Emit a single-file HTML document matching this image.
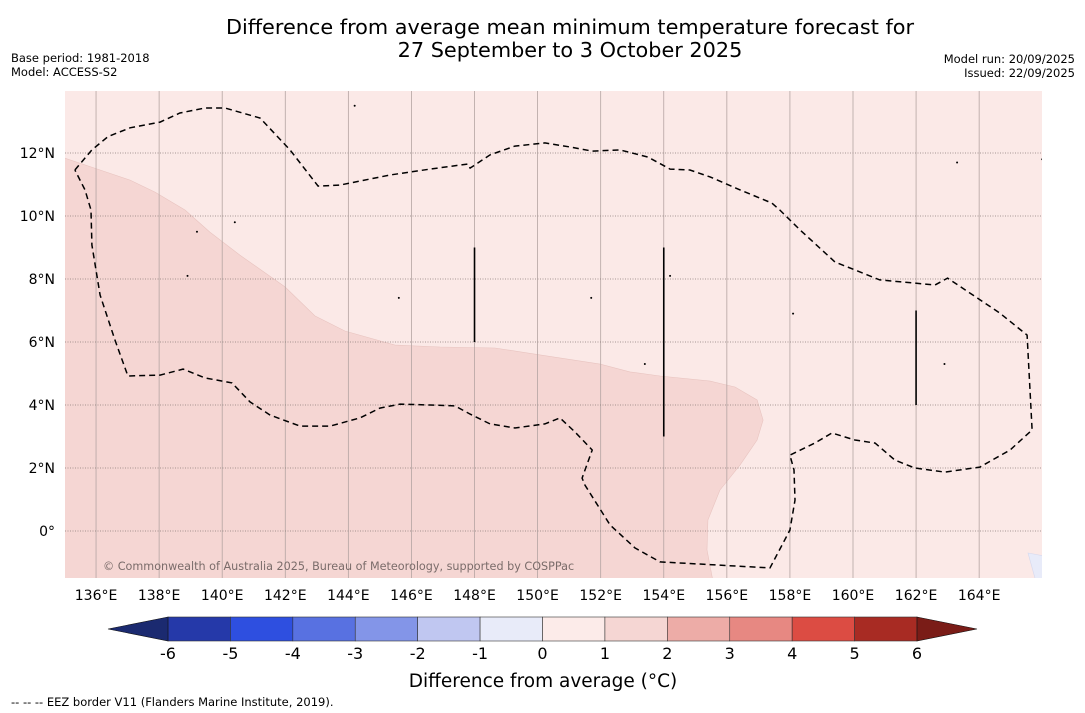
<!DOCTYPE html>
<html><head><meta charset="utf-8"><style>
body{margin:0;background:#fff;font-family:"DejaVu Sans","Liberation Sans",sans-serif;}
#wrap{position:relative;width:1085px;height:713px;overflow:hidden;}
</style></head><body>
<div id="wrap">
<svg id="svg" width="1085" height="713" xmlns="http://www.w3.org/2000/svg">
<text x="570" y="34" text-anchor="middle" font-size="20.8" fill="#000">Difference from average mean minimum temperature forecast for</text>
<text x="570" y="57" text-anchor="middle" font-size="20.8" fill="#000">27 September to 3 October 2025</text>
<text x="11" y="62" font-size="11.5">Base period: 1981-2018</text>
<text x="11" y="76" font-size="11.5">Model: ACCESS-S2</text>
<text x="1075" y="63" font-size="11.5" text-anchor="end">Model run: 20/09/2025</text>
<text x="1075" y="77" font-size="11.5" text-anchor="end">Issued: 22/09/2025</text>
<defs><clipPath id="mapclip"><rect x="65" y="91" width="977" height="487"/></clipPath></defs>
<g id="map" clip-path="url(#mapclip)"></g>
<g id="axes"></g>
<text x="103" y="570" font-size="11.2" fill="#7a6c6a">© Commonwealth of Australia 2025, Bureau of Meteorology, supported by COSPPac</text>
<g id="cbar"></g>
<text x="543" y="687" text-anchor="middle" font-size="18.5">Difference from average (°C)</text>
<text x="11" y="706" font-size="11.5">--  --  -- EEZ border V11 (Flanders Marine Institute, 2019).</text>
</svg>
</div>
<script>
const lonTicks=[136,138,140,142,144,146,148,150,152,154,156,158,160,162,164];
const latTicks=[0,2,4,6,8,10,12];
const anomalyRegion=[[135,11.84],[136.13,11.46],[137.08,11.14],[137.87,10.76],[138.82,10.19],[139.61,9.49],[140.56,8.76],[141.99,7.75],[142.94,6.83],[143.89,6.35],[145.48,5.9],[146.91,5.84],[148.65,5.81],[150.08,5.59],[151.98,5.3],[152.93,5.05],[153.88,4.92],[155.47,4.76],[156.26,4.57],[156.96,4.16],[157.15,3.52],[156.96,2.89],[156.42,2.1],[155.78,1.3],[155.4,0.35],[155.37,-0.6],[155.56,-1.6],[135,-1.6]];
const coolRegion=[[165.55,-0.7],[166.1,-0.8],[166.1,-1.6],[165.8,-1.6]];
const eezBorder=[[135.33,11.46],[135.87,12.1],[136.38,12.52],[137.08,12.8],[138.03,12.98],[138.66,13.27],[139.45,13.43],[140.09,13.43],[141.2,13.11],[142.15,12.1],[143.04,10.95],[143.73,10.98],[145.32,11.3],[146.59,11.49],[147.79,11.65],[147.86,11.52],[148.49,11.94],[149.28,12.22],[150.23,12.32],[151.03,12.19],[151.73,12.06],[152.61,12.1],[153.5,11.87],[154.2,11.49],[154.83,11.46],[155.47,11.24],[156.42,10.83],[157.43,10.41],[157.68,10.19],[158.32,9.56],[159.43,8.54],[160.85,7.97],[162.6,7.81],[163.0,8.03],[164.65,6.92],[165.52,6.22],[165.68,3.21],[164.98,2.57],[164.02,2.03],[162.91,1.87],[161.96,2.0],[161.33,2.25],[160.7,2.79],[160.06,2.89],[159.33,3.11],[158.79,2.79],[158.0,2.41],[158.13,1.94],[158.16,0.98],[158.0,0.03],[157.37,-1.17],[153.88,-0.98],[153.09,-0.54],[152.3,0.19],[151.5,1.46],[151.41,1.68],[151.73,2.57],[151.19,3.14],[150.71,3.59],[150.23,3.4],[149.28,3.27],[148.49,3.4],[147.86,3.71],[147.38,3.97],[146.59,4.0],[145.64,4.03],[145.0,3.9],[144.37,3.59],[143.42,3.33],[142.47,3.33],[141.52,3.68],[140.88,4.1],[140.31,4.7],[139.45,4.86],[138.76,5.14],[138.03,4.95],[137.01,4.92],[136.6,6.06],[136.13,7.49],[135.87,9.08],[135.84,10.19],[135.65,10.83],[135.33,11.46]];
const borderSegments=[[148,6.0,9.0],[154,3.0,9.0],[162,4.0,7.0]];
const islands=[[144.2,13.5],[139.2,9.5],[140.4,9.8],[145.6,7.4],[151.7,7.4],[158.1,6.9],[162.9,5.3],[138.9,8.1],[153.4,5.3],[154.2,8.1],[163.3,11.7],[166,11.8]];
const cbarLevels=[-6,-5,-4,-3,-2,-1,0,1,2,3,4,5,6];
const cbarColors=["#2539a9","#2e4fe0","#5871e1","#8395e8","#c0c7f1","#e8ebf9","#fcebe9","#f5d6d3","#edaca7","#e78882","#dc4c43","#a82b23"];

const NS="http://www.w3.org/2000/svg";
const X=lon=>64.5+(lon-135)*31.54;
const Y=lat=>531-lat*31.5;
const CX=v=>168+(v+6)*(917-168)/12;
function mk(tag,attrs,parent){const e=document.createElementNS(NS,tag);for(const k in attrs)e.setAttribute(k,attrs[k]);parent.appendChild(e);return e;}
const map=document.getElementById('map'),axes=document.getElementById('axes'),cbar=document.getElementById('cbar');
const bg=mk('rect',{x:65,y:91,width:977,height:487,fill:'#fbe9e7'},map);


const pts=a=>a.map(p=>X(p[0]).toFixed(1)+','+Y(p[1]).toFixed(1)).join(' ');
const reg=mk('polygon',{points:pts(anomalyRegion),fill:'#f5d6d3',stroke:'#e8c4c0','stroke-width':0.6},map);


const cool=mk('polygon',{points:pts(coolRegion),fill:'#e8ebf9',stroke:'#d5d8ee','stroke-width':0.6},map);


lonTicks.forEach(l=>{
  const g=mk('line',{x1:X(l),x2:X(l),y1:91,y2:578,stroke:'#b4a4a2','stroke-width':0.8},map);
  
  
  const t=mk('text',{x:X(l),y:600,'text-anchor':'middle','font-size':14},axes);t.textContent=l+'°E';
  
  
});
latTicks.forEach(l=>{
  const g=mk('line',{x1:65,x2:1042,y1:Y(l),y2:Y(l),stroke:'#8a7c7a','stroke-width':0.8,'stroke-dasharray':'1,1.5'},map);
  
  
  const t=mk('text',{x:55,y:Y(l)+5,'text-anchor':'end','font-size':14},axes);t.textContent=l===0?'0°':l+'°N';
  
  
});
const eez=mk('polyline',{points:pts(eezBorder),fill:'none',stroke:'#000','stroke-width':1.5,'stroke-dasharray':'6,4'},map);


borderSegments.forEach(s=>{
  const l=mk('line',{x1:X(s[0]),x2:X(s[0]),y1:Y(s[2]),y2:Y(s[1]),stroke:'#000','stroke-width':1.6},map);
  
  
});
islands.forEach(p=>{
  const c=mk('circle',{cx:X(p[0]),cy:Y(p[1]),r:1,fill:'#000'},map);
  
  
});
for(let i=0;i<cbarColors.length;i++){
  const r=mk('rect',{x:CX(cbarLevels[i]),y:617,width:CX(cbarLevels[i+1])-CX(cbarLevels[i]),height:24,fill:cbarColors[i],stroke:'#333','stroke-width':0.6},cbar);
  
  
}
const lt=mk('polygon',{points:`${CX(-6)},617 108,629 ${CX(-6)},641`,fill:'#1b2a70',stroke:'#111','stroke-width':0.6},cbar);


const rt=mk('polygon',{points:`${CX(6)},617 977,629 ${CX(6)},641`,fill:'#7a1c17',stroke:'#111','stroke-width':0.6},cbar);


cbarLevels.forEach(v=>{
  const t=mk('text',{x:CX(v),y:659,'text-anchor':'middle','font-size':16},cbar);t.textContent=v;
  
  
});
</script>
</body></html>
